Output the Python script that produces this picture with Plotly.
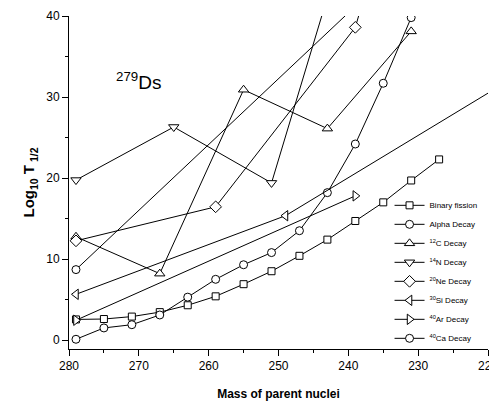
import plotly.graph_objects as go

# ---- data ----
binary_x = [279, 275, 271, 267, 263, 259, 255, 251, 247, 243, 239, 235, 231, 227]
binary_y = [2.55, 2.6, 2.9, 3.45, 4.3, 5.4, 6.9, 8.5, 10.4, 12.4, 14.7, 17.0, 19.7, 22.3]

alpha_x = [279, 275, 271, 267, 263, 259, 255, 251, 247, 243, 239, 235, 231, 227]
alpha_y = [0.1, 1.5, 1.9, 3.1, 5.3, 7.5, 9.3, 10.8, 13.5, 18.2, 24.2, 31.7, 39.8, 47.0]

c12_x = [279, 267, 255, 243, 231]
c12_y = [12.75, 8.2, 30.9, 26.1, 38.1]

n14_x = [279, 265, 251, 237]
n14_y = [19.75, 26.3, 19.4, 59.5]

ne20_x = [279, 259, 239, 219]
ne20_y = [12.25, 16.45, 38.6, 98.0]

si30_x = [279, 249, 219]
si30_y = [5.65, 15.35, 31.0]

ar40_x = [279, 239]
ar40_y = [2.45, 17.8]

ca40_x = [279, 239]
ca40_y = [8.7, 41.2]

x_ticks = [280, 270, 260, 250, 240, 230, 220]
y_ticks = [0, 10, 20, 30, 40]

series = [
    ("Binary fission", binary_x, binary_y, "square", 7),
    ("Alpha Decay", alpha_x, alpha_y, "circle", 8),
    ("<sup>12</sup>C Decay", c12_x, c12_y, "triangle-up", 9),
    ("<sup>14</sup>N Decay", n14_x, n14_y, "triangle-down", 9),
    ("<sup>20</sup>Ne Decay", ne20_x, ne20_y, "diamond", 9),
    ("<sup>30</sup>Si Decay", si30_x, si30_y, "triangle-left", 9),
    ("<sup>40</sup>Ar Decay", ar40_x, ar40_y, "triangle-right", 9),
    ("<sup>40</sup>Ca Decay", ca40_x, ca40_y, "circle", 8),
]

FONT = "Arial, Liberation Sans, sans-serif"

fig = go.Figure()
for name, xs, ys, sym, sz in series:
    fig.add_trace(go.Scatter(
        x=xs, y=ys, name=name, mode="lines+markers",
        line=dict(color="black", width=1),
        marker=dict(symbol=sym, size=sz, color="white",
                    line=dict(color="black", width=1)),
        cliponaxis=True,
    ))

fig.add_annotation(
    x=0.165, y=0.805, xref="paper", yref="paper",
    text="<sup>279</sup>Ds", showarrow=False,
    font=dict(family=FONT, size=19, color="black"),
    xanchor="center", yanchor="middle",
)

axis_common = dict(
    showgrid=False, zeroline=False, showline=True, linecolor="black",
    linewidth=1, ticks="outside", ticklen=6, tickwidth=1, tickcolor="black",
    tickfont=dict(family=FONT, size=12, color="black"),
    automargin=False, ticklabeloverflow="allow",
)

fig.update_xaxes(
    range=[280, 220], tickvals=x_ticks,
    minor=dict(dtick=5, ticks="outside", ticklen=3, tickcolor="black", showgrid=False),
    title=dict(text="<b>Mass of parent nuclei</b>", font=dict(family=FONT, size=12, color="black"),
               standoff=17),
    **axis_common,
)
fig.update_yaxes(
    range=[-1.1, 40], tickvals=y_ticks,
    minor=dict(dtick=5, ticks="outside", ticklen=3, tickcolor="black", showgrid=False),
    title=dict(text="<b>Log<sub>10</sub> T<sub> 1/2</sub></b>", font=dict(family=FONT, size=15, color="black"),
               standoff=7),
    **axis_common,
)

# the page body adds an 8px margin, so the figure is sized/offset to compensate
fig.update_layout(
    width=489, height=395,
    margin=dict(l=61, r=9, t=8, b=54, autoexpand=False),
    paper_bgcolor="white", plot_bgcolor="white",
    font=dict(family=FONT, color="black"),
    showlegend=True,
    legend=dict(x=0.765, y=0.475, xanchor="left", yanchor="top",
                font=dict(family=FONT, size=8, color="black"),
                bgcolor="rgba(0,0,0,0)", borderwidth=0, itemwidth=30),
)

fig.write_html("out.html")
